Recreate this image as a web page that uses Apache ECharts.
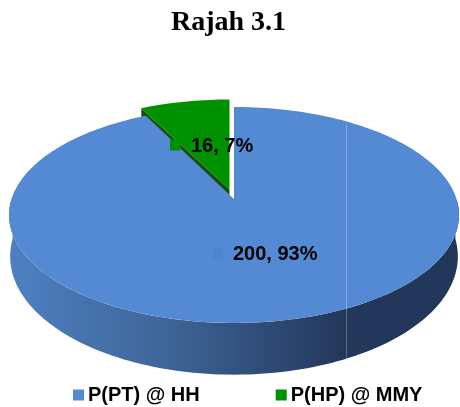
<!DOCTYPE html>
<html>
<head>
<meta charset="utf-8">
<style>
html, body { margin:0; padding:0; background:#fff; }
#chart { width:460px; height:407px; }
</style>
<script src="https://cdn.jsdelivr.net/npm/echarts@6/dist/echarts.min.js"></script>
</head>
<body>
<div id="chart"></div>
<script>
const sliceNames = ['P(PT) @ HH', 'P(HP) @ MMY'];
const sliceValues = [200, 16];
const slicePercents = [93, 7];
const sliceColors = ['#538ad3', '#009100'];
const sideColors = ['#22375a', '#14500c'];

// 3d look: circle pushed through a small perspective
const persp = { a:222.5, b:105.6, k:0.148, depth:40, bottomScale:0.995, bottomBulge:1.1 };
const total = sliceValues.reduce((s, v) => s + v, 0);

function rimPoint(cx, cy, deg, scale, bulge){
    let t = deg * Math.PI / 180;
    let u = Math.sin(t), v = Math.cos(t);
    let w = 1 + persp.k * v;
    return [cx + scale * persp.a * u / w, cy - scale * (bulge || 1) * persp.b * v / w];
}
function arcPoints(cx, cy, from, to, scale, bulge){
    let pts = [];
    let n = Math.max(2, Math.ceil(Math.abs(to - from) / 1.5));
    for (let i = 0; i <= n; i++){
        pts.push(rimPoint(cx, cy, from + (to - from) * i / n, scale, bulge));
    }
    return pts;
}
function sliceAngles(i){
    let before = sliceValues.slice(0, i).reduce((s, v) => s + v, 0);
    return [before / total * 360, (before + sliceValues[i]) / total * 360];
}

const rimCenter = [[234, 199], [229.5, 191.5]];
const tip = [[234, 199], [229.5, 189.5]];
const labelPos = [[233, 254], [191, 146]];
const markerPos = [[218, 254], [175, 145]];

function renderSlice(params, api){
    let i = api.value(0);
    let [from, to] = sliceAngles(i);
    let [cx, cy] = rimCenter[i];
    let top = [tip[i]].concat(arcPoints(cx, cy, from, to, 1));
    let children = [];
    if (i === 0){
        let low = arcPoints(cx, cy, 90, 270, 1);
        let high = arcPoints(cx, cy + persp.depth, 270, 90, persp.bottomScale, persp.bottomBulge);
        children.push({
            type:'polygon',
            shape:{ points:low.concat(high) },
            style:{
                fill:{
                    type:'linear', global:true, x:10, y:0, x2:346, y2:0,
                    colorStops:[
                        { offset:0, color:'#4e80c2' },
                        { offset:0.45, color:'#3f6699' },
                        { offset:1, color:sideColors[0] }
                    ]
                }
            }
        });
    } else {
        let edge = [tip[i], rimPoint(cx, cy, from, 1)];
        let down = edge.map(p => [p[0], p[1] + persp.depth]).reverse();
        children.push({
            type:'polygon',
            shape:{ points:edge.concat(down) },
            style:{ fill:sideColors[1] }
        });
    }
    children.push({ type:'polygon', shape:{ points:top }, style:{ fill:sliceColors[i] } });
    if (i === 0){
        // faint seam on the blue slice
        children.push({
            type:'line',
            shape:{ x1:346.5, y1:125, x2:346.5, y2:359 },
            style:{ stroke:'rgba(255,255,255,0.28)', lineWidth:1 }
        });
    }
    return { type:'group', children:children };
}

function renderLabel(params, api){
    let i = api.value(0);
    let m = markerPos[i], l = labelPos[i];
    return {
        type:'group',
        children:[
            {
                type:'rect',
                shape:{ x:m[0] - 5, y:m[1] - 5.5, width:10, height:11 },
                style:{ fill:i === 0 ? '#4f85cf' : sliceColors[1] }
            },
            {
                type:'text',
                style:{
                    x:l[0], y:l[1],
                    text:sliceValues[i] + ', ' + slicePercents[i] + '%',
                    fill:'#000',
                    font:'bold 20px "Liberation Sans"',
                    verticalAlign:'middle'
                }
            }
        ]
    };
}

let myChart = echarts.init(document.getElementById('chart'), null, { renderer:'canvas' });
myChart.setOption({
    animation:false,
    title:{
        text:'Rajah 3.1',
        left:166,
        top:4,
        textStyle:{ fontFamily:'Liberation Serif', fontWeight:'bold', fontSize:28, color:'#000' }
    },
    legend:{
        data:sliceNames.map((n, i) => ({ name:n, itemStyle:{ color:sliceColors[i] } })),
        left:68,
        top:380,
        itemWidth:11,
        itemHeight:11,
        itemGap:76,
        icon:'rect',
        textStyle:{ fontFamily:'Liberation Sans', fontWeight:'bold', fontSize:20, color:'#000', padding:[0,0,0,-1] }
    },
    series:[
        { type:'custom', name:sliceNames[0], coordinateSystem:'none', z:3, renderItem:renderSlice, data:[[0, sliceValues[0]]], itemStyle:{ color:sliceColors[0] } },
        { type:'custom', name:sliceNames[1], coordinateSystem:'none', z:2, renderItem:renderSlice, data:[[1, sliceValues[1]]], itemStyle:{ color:sliceColors[1] } },
        { type:'custom', name:'labels', coordinateSystem:'none', z:4, renderItem:renderLabel, data:[[0], [1]] }
    ]
});
</script>
</body>
</html>
